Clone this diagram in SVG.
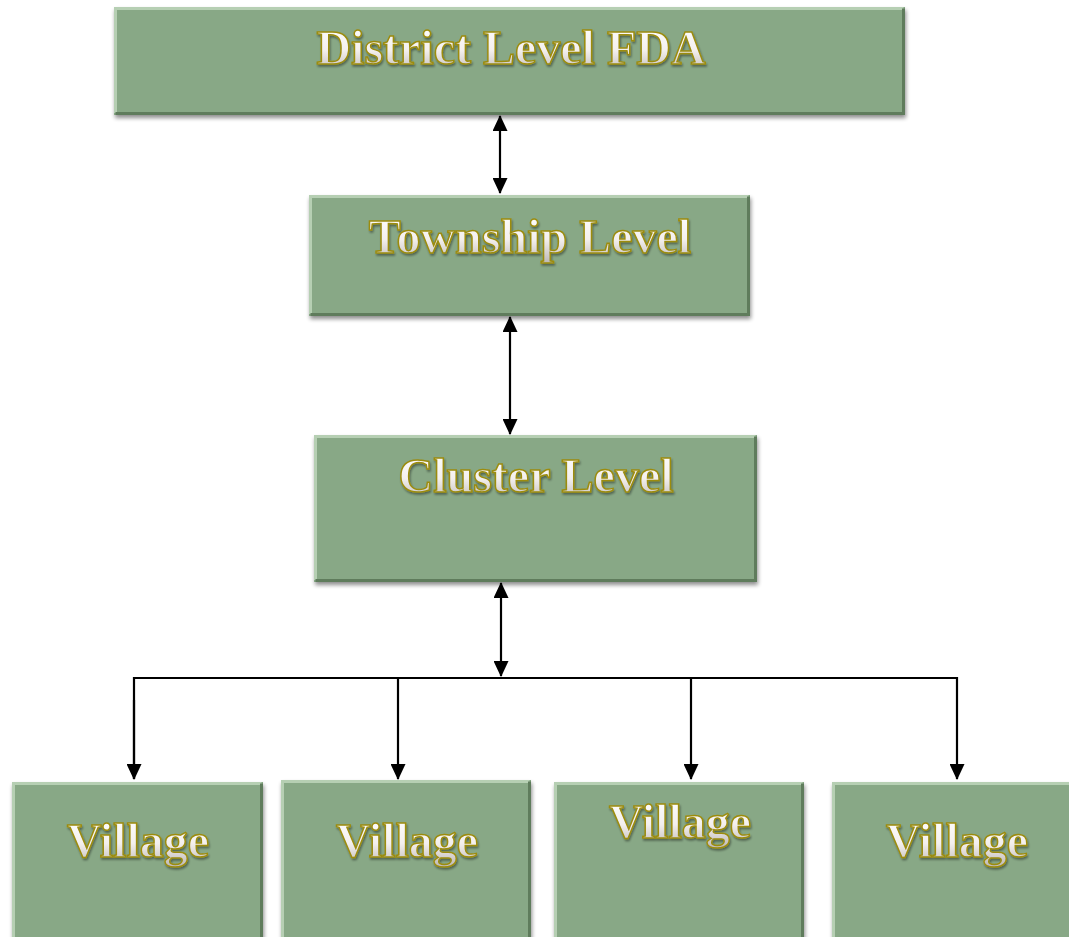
<svg xmlns="http://www.w3.org/2000/svg" width="1069" height="937" viewBox="0 0 1069 937">
<defs>
<linearGradient id="tg" x1="0" y1="0" x2="0" y2="1">
<stop offset="0" stop-color="#ffffff"/>
<stop offset="0.55" stop-color="#f4f0ee"/>
<stop offset="1" stop-color="#bdb8b6"/>
</linearGradient>
<filter id="sh" x="-5%" y="-10%" width="112%" height="125%">
<feGaussianBlur in="SourceAlpha" stdDeviation="2"/>
<feOffset dx="1" dy="3"/>
<feComponentTransfer><feFuncA type="linear" slope="0.45"/></feComponentTransfer>
<feMerge><feMergeNode/><feMergeNode in="SourceGraphic"/></feMerge>
</filter>
<filter id="tsh" x="-5%" y="-20%" width="110%" height="140%">
<feGaussianBlur in="SourceAlpha" stdDeviation="1.2"/>
<feOffset dx="1" dy="2"/>
<feComponentTransfer><feFuncA type="linear" slope="0.4"/></feComponentTransfer>
<feMerge><feMergeNode/><feMergeNode in="SourceGraphic"/></feMerge>
</filter>
<marker id="ah" viewBox="0 0 16 15" refX="15" refY="7.5" markerWidth="16" markerHeight="15" markerUnits="userSpaceOnUse" orient="auto-start-reverse">
<path d="M0,0 L16,7.5 L0,15 z" fill="#000"/>
</marker>
</defs>
<style>
.box{fill:#88a886;}
.hl{fill:none;stroke:#b6cfb3;stroke-width:3;}
.dk{fill:none;stroke:#5f7c5c;stroke-width:3;}
.lbl{font-family:"Liberation Serif","Times New Roman",serif;font-weight:bold;font-size:48px;fill:url(#tg);stroke:#9c8c10;stroke-width:1.5;text-anchor:middle;filter:url(#tsh);}
.con{stroke:#000;stroke-width:2.2;fill:none;}
</style>
<rect width="1069" height="937" fill="#fff"/>

<g id="district">
<rect class="box" x="114" y="7" width="791" height="108" filter="url(#sh)"/>
<polyline class="hl" points="115.5,113 115.5,8.5 903.5,8.5"/>
<polyline class="dk" points="115.5,113.5 903.5,113.5 903.5,8.5"/>
<text class="lbl" x="511" y="64">District Level FDA</text>
</g>

<g id="township">
<rect class="box" x="309" y="195" width="441" height="121" filter="url(#sh)"/>
<polyline class="hl" points="310.5,314 310.5,196.5 748.5,196.5"/>
<polyline class="dk" points="310.5,314.5 748.5,314.5 748.5,196.5"/>
<text class="lbl" x="530" y="253">Township Level</text>
</g>

<g id="cluster">
<rect class="box" x="314" y="435" width="443" height="147" filter="url(#sh)"/>
<polyline class="hl" points="315.5,580 315.5,436.5 755.5,436.5"/>
<polyline class="dk" points="315.5,580.5 755.5,580.5 755.5,436.5"/>
<text class="lbl" x="536" y="492">Cluster Level</text>
</g>

<g id="village1">
<rect class="box" x="12" y="782" width="251" height="160" filter="url(#sh)"/>
<polyline class="hl" points="13.5,940 13.5,783.5 261.5,783.5"/>
<polyline class="dk" points="261.5,783.5 261.5,940"/>
<text class="lbl" x="138" y="857">Village</text>
</g>

<g id="village2">
<rect class="box" x="281" y="780" width="250" height="162" filter="url(#sh)"/>
<polyline class="hl" points="282.5,940 282.5,781.5 529.5,781.5"/>
<polyline class="dk" points="529.5,781.5 529.5,940"/>
<text class="lbl" x="407" y="857">Village</text>
</g>

<g id="village3">
<rect class="box" x="554" y="782" width="250" height="160" filter="url(#sh)"/>
<polyline class="hl" points="555.5,940 555.5,783.5 802.5,783.5"/>
<polyline class="dk" points="802.5,783.5 802.5,940"/>
<text class="lbl" x="680" y="838">Village</text>
</g>

<g id="village4">
<rect class="box" x="832" y="782" width="245" height="160" filter="url(#sh)"/>
<polyline class="hl" points="833.5,940 833.5,783.5 1069,783.5"/>
<text class="lbl" x="957" y="857">Village</text>
</g>

<g id="connectors">
<line class="con" x1="500" y1="116" x2="500" y2="193" marker-start="url(#ah)" marker-end="url(#ah)"/>
<line class="con" x1="510" y1="317" x2="510" y2="434" marker-start="url(#ah)" marker-end="url(#ah)"/>
<line class="con" x1="501" y1="583" x2="501" y2="676" marker-start="url(#ah)" marker-end="url(#ah)"/>
<polyline class="con" points="134,779 134,678 957,678 957,779" marker-end="url(#ah)"/>
<line class="con" x1="134" y1="700" x2="134" y2="779" marker-end="url(#ah)"/>
<line class="con" x1="398" y1="678" x2="398" y2="779" marker-end="url(#ah)"/>
<line class="con" x1="691" y1="678" x2="691" y2="779" marker-end="url(#ah)"/>
</g>
</svg>
